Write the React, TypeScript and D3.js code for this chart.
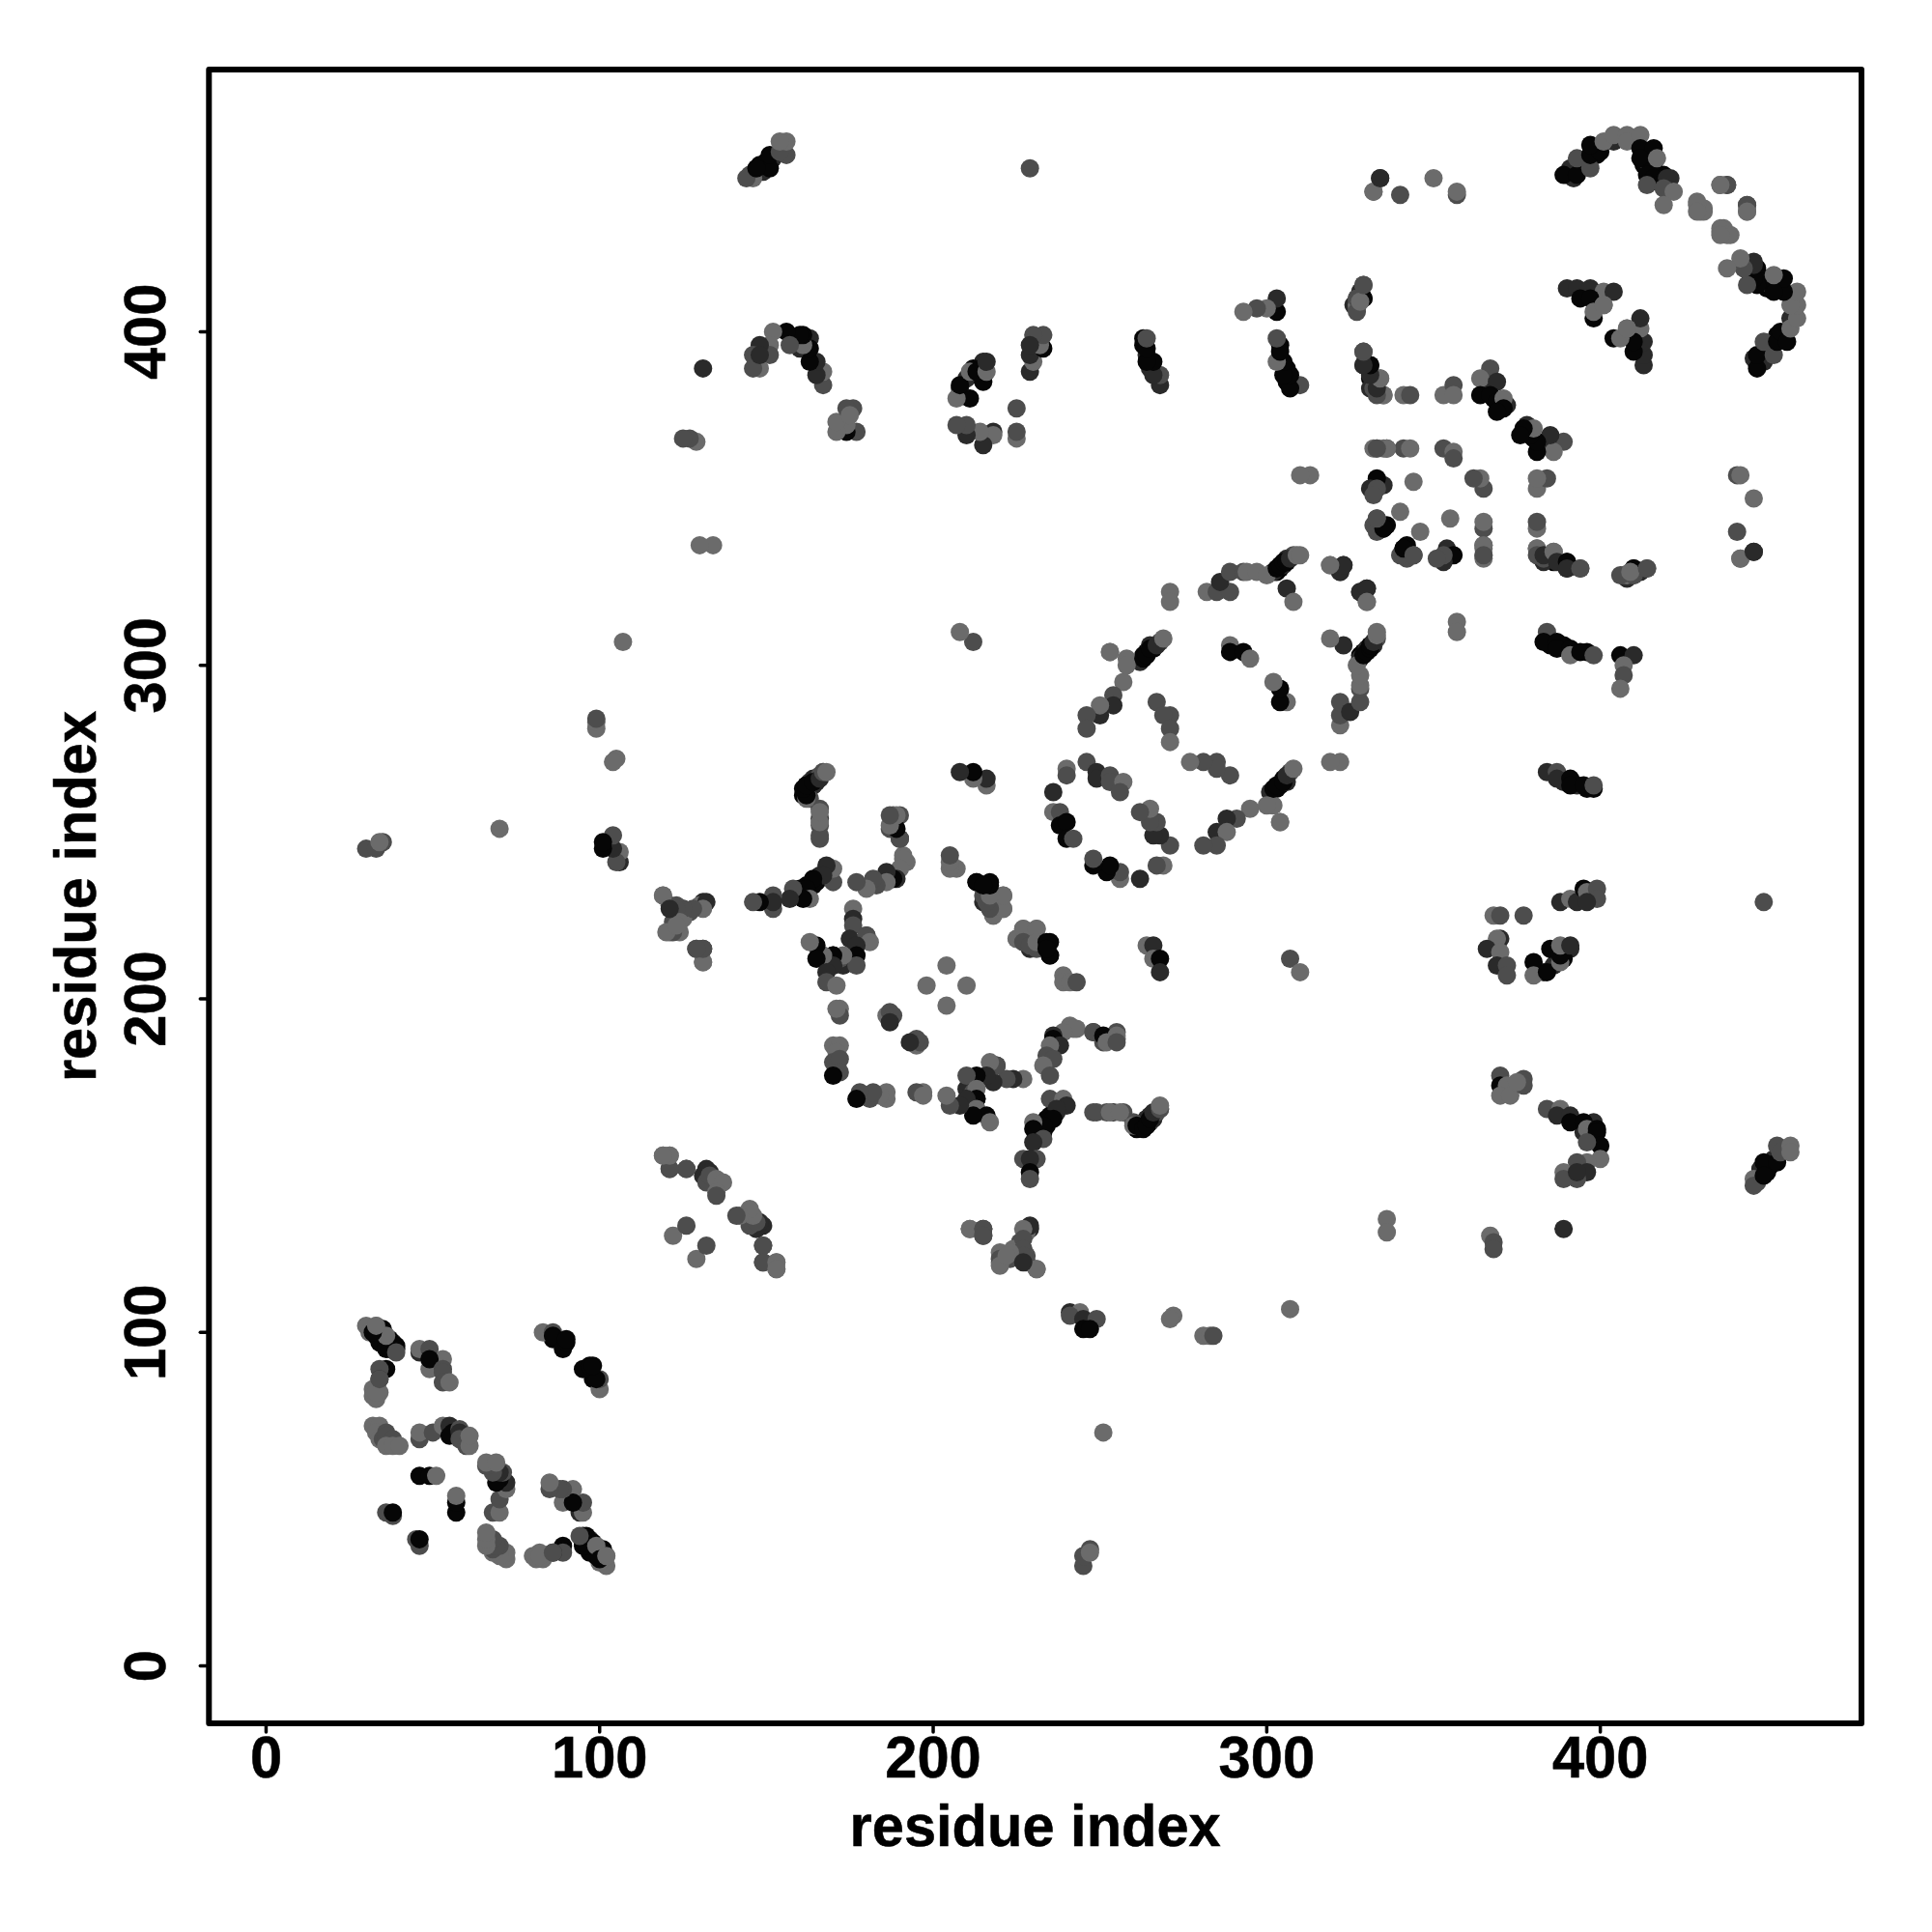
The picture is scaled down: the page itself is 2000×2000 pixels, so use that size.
import React from "react";
import * as d3 from "d3";

type C = [number, number, number];
const xTicks = [0, 100, 200, 300, 400];
const yTicks = [0, 100, 200, 300, 400];
const xTitle = "residue index";
const yTitle = "residue index";
const shades = ["#6b6b6b", "#4d4d4d", "#2a2a2a", "#060606"];

// Contacts [i, j, strength level]; the map is symmetric so each contact appears at (i,j) and (j,i)
const strongCores: C[] = [
  [303,328,3],[304,329,3],[305,330,2],[306,332,2],[308,333,1],[302,328,2],
  [262,301,2],[263,303,3],[264,304,3],[265,306,2],[266,305,3],[268,307,1],
  [261,161,3],[262,162,3],[264,164,2],[266,165,1],
  [232,160,3],[234,162,3],[235,165,3],[237,166,2],[231,158,2],[233,160,3],
  [162,262,3],[163,263,3],[164,264,2],[165,265,2],[163,265,1],
  [447,145,1],[450,148,3],[451,150,3],[452,152,2],[448,149,2],
  [395,450,3],[396,452,3],[398,455,3],[399,453,3],
  [413,450,3],[414,451,2],[415,453,3],[416,449,3],
  [390,447,3],[392,446,2],[391,449,2],
  [417,445,3],[419,447,3],[421,446,2],
  [370,378,3],[372,378,2],[368,380,3],[366,382,2],
  [35,99,3],[36,98,3],[38,97,2],[38,95,3],
  [385,306,3],[389,306,3],[392,304,2],[396,304,3],
  [389,265,2],[393,264,2],[396,263,3],
  [335,354,2],[332,352,2],[334,342,2],[332,342,1],[336,342,3],
  [326,408,2],[328,412,2],
  [387,213,3],[386,210,2],[383,208,2],[391,215,2],[389,212,3],
  [395,160,2],[397,158,2],[398,163,2],
  [173,210,2],[172,212,1],[170,210,2],[170,213,3],[177,216,2],[180,219,2],
];
const domainA: C[] = [
  [30,102,0],[33,102,0],[31,100,0],[33,99,3],[35,101,3],[34,97,3],[37,98,3],[36,97,3],[39,96,3],[36,95,3],[37,95,3],[39,95,3],[39,94,1],[36,99,0],[32,100,3],[33,102,0],
  [36,89,3],[34,89,1],[34,86,2],[32,83,0],[34,82,0],[32,81,0],[33,80,0],[33,82,0],[34,86,1],
  [46,94,2],[46,95,0],[49,95,1],[53,92,0],[49,89,0],[49,92,3],[53,89,1],[53,88,1],[53,85,1],[55,85,0],
  [86,98,3],[83,100,0],[86,100,1],[86,99,3],[89,95,3],[90,97,3],[90,98,3],
  [32,72,0],[34,72,0],[33,70,0],[34,68,0],[36,70,1],[35,68,1],[36,69,1],[38,68,1],[36,66,0],[38,66,0],[40,66,0],
  [46,68,1],[46,70,0],[50,70,1],[53,72,0],[55,72,2],[56,70,3],[55,69,3],[58,71,1],[58,70,2],[59,68,2],[58,68,1],[60,66,1],[61,66,0],[61,69,0],
  [46,57,3],[49,57,3],[51,57,0],[38,45,1],[36,46,1],[38,46,3],
];
const domainB: C[] = [
  [119,231,0],[121,228,1],[123,228,1],[125,227,0],[127,226,1],[131,229,2],[130,228,0],[125,224,0],[122,223,1],[122,221,1],[124,220,0],[121,220,0],[129,215,1],[131,215,2],[131,211,0],
  [119,153,0],[121,153,0],[121,149,1],[126,149,1],[132,149,2],[131,147,2],[133,148,2],[132,145,1],[133,147,1],[135,146,0],[137,145,0],[135,142,0],[135,141,1],
  [122,129,0],[126,132,1],[149,126,1],[149,121,1],[153,121,0],[153,119,0],
  [176,227,0],[176,224,2],[176,222,1],[175,218,2],[180,219,1],[181,217,0],[177,216,2],[177,213,3],[177,210,1],[173,213,0],[170,213,3],[170,210,2],[167,213,0],[165,216,3],[163,217,0],[165,212,3],[168,208,2],[168,205,1],[171,204,0],
  [172,197,0],[172,195,1],[171,197,0],
  [186,195,0],[187,196,1],[188,195,1],[187,193,2],
  [204,210,0],[198,204,0],
  [170,186,0],[172,186,0],[171,184,0],[170,181,1],[172,182,1],[172,178,1],[170,177,3],
  [188,255,1],[190,255,1],[187,251,1],[190,248,2],[191,243,0],[192,241,0],
  [166,257,1],[166,254,2],[166,252,1],[166,248,1],[162,262,3],[162,264,3],[164,266,2],[166,267,1],[167,268,0],[163,260,1],
];
const domainC: C[] = [
  [213,235,3],[217,235,3],[215,229,2],[215,231,1],[218,231,0],[221,231,0],[221,227,0],[218,225,0],
  [225,218,0],[227,221,0],[231,221,0],[227,217,1],[229,216,1],[231,217,0],[234,217,3],[235,213,3],[234,215,3],
  [239,207,0],[239,205,0],[241,205,0],[243,205,1],
  [242,191,0],[239,190,0],[236,189,2],[236,188,3],[238,186,2],[235,186,0],[234,183,1],[236,182,1],[233,180,0],[235,177,1],
  [248,190,1],[251,189,3],[255,189,0],[252,187,0],[255,187,1],
  [229,132,2],[227,131,0],[227,128,1],[227,125,1],[227,123,1],[223,124,0],[220,122,1],[220,120,0],[222,123,0],[231,119,0],[227,121,2],
  [211,131,0],[215,131,1],[215,129,1],
  [241,106,2],[244,106,0],[241,105,1],[245,104,2],[249,104,1],[245,101,3],[247,101,3],
  [272,105,0],[271,104,0],[281,99,0],[283,99,0],[284,99,1],[307,107,0],[336,134,0],[336,130,0],[251,70,0],
  [245,30,1],[245,33,1],[247,35,1],[247,34,0],
  [235,170,1],[239,170,0],[240,168,2],[237,167,2],[234,164,3],[236,164,3],[233,162,3],[230,163,0],[230,161,3],[233,158,1],[230,157,2],[227,152,1],[231,152,1],[229,152,2],[229,148,3],[229,146,1],
  [249,166,1],[253,166,0],[256,166,0],
  [260,162,0],[261,162,3],[263,161,3],[264,162,3],[265,164,3],[266,166,2],[268,167,1],[268,168,0],
  [264,216,0],[266,216,2],[266,212,0],[268,212,3],[268,208,2],[307,212,1],[310,208,0],
];
const domainD: C[] = [
  [271,322,0],[271,319,0],[282,322,0],[285,322,1],[289,322,1],[286,325,2],[289,328,1],[293,328,1],[294,328,0],[297,328,0],[300,327,0],[306,323,2],[308,319,0],
  [303,329,3],[304,330,3],[305,331,3],[306,331,3],[307,332,2],[309,333,0],[310,333,0],
  [319,330,0],[323,330,2],[322,328,1],[328,322,2],[330,323,2],[330,319,0],
  [253,304,0],[258,302,0],[257,295,0],
  [263,302,3],[264,303,3],[265,305,3],[267,306,2],[269,308,0],
  [254,291,1],[254,288,2],[250,285,2],[250,288,0],[246,285,1],[246,281,1],
  [267,289,1],[271,285,1],[269,285,1],[271,281,1],[271,277,0],
  [289,306,0],[289,304,3],[293,304,3],[295,302,0],
  [240,269,0],[240,267,1],[246,271,1],[249,268,2],[249,266,2],[253,267,1],[253,265,1],[257,265,0],[256,262,1],[236,262,2],[236,256,0],[238,256,1],[238,252,3],[240,253,3],[240,248,3],[242,248,1],
  [300,258,0],[304,253,0],
  [334,446,2],[332,442,0],[340,441,1],[350,446,0],[357,441,1],[357,442,0],
];
const domainE: C[] = [
  [389,447,3],[393,447,3],[393,452,1],[397,449,1],[397,453,3],[400,454,3],[397,456,3],[404,457,2],[401,457,0],[404,459,0],[408,459,0],[408,457,0],[412,459,0],
  [412,455,3],[416,455,3],[412,452,3],[415,448,3],[414,447,3],[416,446,3],[417,452,0],[414,444,1],[420,446,2],[419,443,1],[422,442,0],[419,438,0],
  [429,439,0],[431,437,0],[430,436,0],[436,444,0],[438,444,1],[444,438,1],[444,436,0],[436,431,0],[438,429,0],[436,429,0],
  [390,413,2],[393,413,2],[397,413,2],[401,412,0],[404,412,2],[394,410,3],[397,410,3],[401,408,0],[398,404,3],[398,406,0],[401,408,0],
  [329,414,1],[329,410,3],[327,410,1],[327,407,1],[327,408,0],
  [329,394,1],[329,390,2],[331,390,3],[331,386,3],[334,386,0],[331,383,2],[333,382,1],[335,381,0],[341,381,0],[343,381,1],[353,381,0],[356,384,1],[356,381,0],
  [367,389,1],[364,386,0],[369,385,2],[364,381,3],[367,381,3],[369,379,3],[371,380,0],[371,377,3],[369,376,3],
  [333,365,0],[332,365,0],[335,365,0],[341,365,1],[343,365,0],[353,365,1],[356,364,0],[356,362,1],[336,365,1],
  [333,356,3],[331,353,2],[333,353,1],[332,351,1],[344,355,0],[340,346,0],[333,344,1],[335,341,3],[333,340,1],[341,335,3],[344,333,1],
  [365,336,0],[365,333,1],[381,335,0],[381,333,1],[383,332,1],[383,333,2],[386,334,0],[387,331,2],[390,331,3],[390,329,2],[394,329,1],
  [406,327,1],[410,329,3],[410,327,1],[409,328,0],[414,329,1],[442,332,0],[446,334,2],
  [357,313,0],[357,310,0],
  [384,310,1],[383,307,3],[387,307,3],[387,305,3],[391,305,3],[391,303,0],[394,304,3],[398,303,1],[406,303,3],[410,303,2],[407,300,0],[407,297,1],[406,293,0],
];
const domainF: C[] = [
  [384,268,2],[387,268,1],[387,266,2],[391,266,3],[391,264,3],[395,264,3],[398,263,3],[398,264,1],
  [388,229,2],[391,230,0],[393,229,2],[395,233,3],[396,232,0],[399,233,1],[399,230,1],[396,229,2],[449,229,1],
  [368,225,0],[370,225,1],[377,225,1],
  [370,218,2],[369,218,0],[366,215,2],[370,214,0],[369,210,2],[372,210,1],[372,207,1],
  [380,211,3],[380,207,0],[384,208,3],[385,215,3],[388,211,0],[388,213,3],[388,216,0],[391,216,2],
  [370,177,1],[370,174,3],[372,174,0],[370,171,0],[373,171,0],[377,176,1],[377,174,1],[375,175,0],
  [384,167,1],[388,167,0],[387,165,2],[391,165,2],[391,163,3],[395,163,3],[396,161,0],[399,161,3],[399,160,3],[400,156,3],[396,157,1],[400,152,0],[396,151,0],[393,151,1],[396,148,2],[393,146,1],[389,148,0],[389,146,1],[393,148,2],
  [389,131,2],[367,129,0],[368,127,1],[368,125,1],
  [446,146,0],[446,144,1],[449,151,3],[449,147,3],[453,151,3],[453,156,1],[454,154,1],[457,156,0],[457,154,0],
];
const domains = [strongCores, domainA, domainB, domainC, domainD, domainE, domainF];

const W = 2000;
const frame = { left: 216.3, right: 1927, top: 72, bottom: 1784 };
const font = "'Liberation Sans', Arial, sans-serif";
const x = d3.scaleLinear().domain([-17.13, 478.3]).range([frame.left, frame.right]);
const y = d3.scaleLinear().domain([-17.2, 478.6]).range([frame.bottom, frame.top]);
const fontSize = 59.6;
const stretch = 1.04;

export default function App() {
  const pts = domains.flat();
  return (
    <svg width={W} height={W} viewBox={`0 0 ${W} ${W}`} style={{ position: "absolute", left: 0, top: 0, background: "#fff" }}>
      <g>
        {pts.map(([i, j, s], k) => (
          <React.Fragment key={k}>
            <circle cx={x(i)} cy={y(j)} r={9.5} fill={shades[s]} />
            <circle cx={x(j)} cy={y(i)} r={9.5} fill={shades[s]} />
          </React.Fragment>
        ))}
      </g>
      <rect x={frame.left} y={frame.top} width={frame.right - frame.left} height={frame.bottom - frame.top} fill="none" stroke="#000" strokeWidth={6} strokeLinejoin="round" />
      {xTicks.map((t) => (
        <g key={t}>
          <line x1={x(t)} x2={x(t)} y1={frame.bottom} y2={frame.bottom + 9} stroke="#000" strokeWidth={3.5} strokeLinecap="round" />
          <text transform={`translate(${x(t)},1839.5) scale(1,${stretch})`} textAnchor="middle" fontFamily={font} fontWeight="bold" fontSize={fontSize} fill="#000" stroke="#000" strokeWidth={0.5}>{t}</text>
        </g>
      ))}
      {yTicks.map((t) => (
        <g key={t}>
          <line x1={frame.left} x2={frame.left - 9} y1={y(t)} y2={y(t)} stroke="#000" strokeWidth={3.5} strokeLinecap="round" />
          <text transform={`translate(171,${y(t)}) rotate(-90) scale(1,${stretch})`} textAnchor="middle" fontFamily={font} fontWeight="bold" fontSize={fontSize} fill="#000" stroke="#000" strokeWidth={0.5}>{t}</text>
        </g>
      ))}
      <text transform={`translate(${(frame.left + frame.right) / 2},1911) scale(1,${stretch})`} textAnchor="middle" fontFamily={font} fontWeight="bold" fontSize={fontSize} fill="#000" stroke="#000" strokeWidth={0.5}>{xTitle}</text>
      <text transform={`translate(99,${(frame.top + frame.bottom) / 2}) rotate(-90) scale(1,${stretch})`} textAnchor="middle" fontFamily={font} fontWeight="bold" fontSize={fontSize} fill="#000" stroke="#000" strokeWidth={0.5}>{yTitle}</text>
    </svg>
  );
}
